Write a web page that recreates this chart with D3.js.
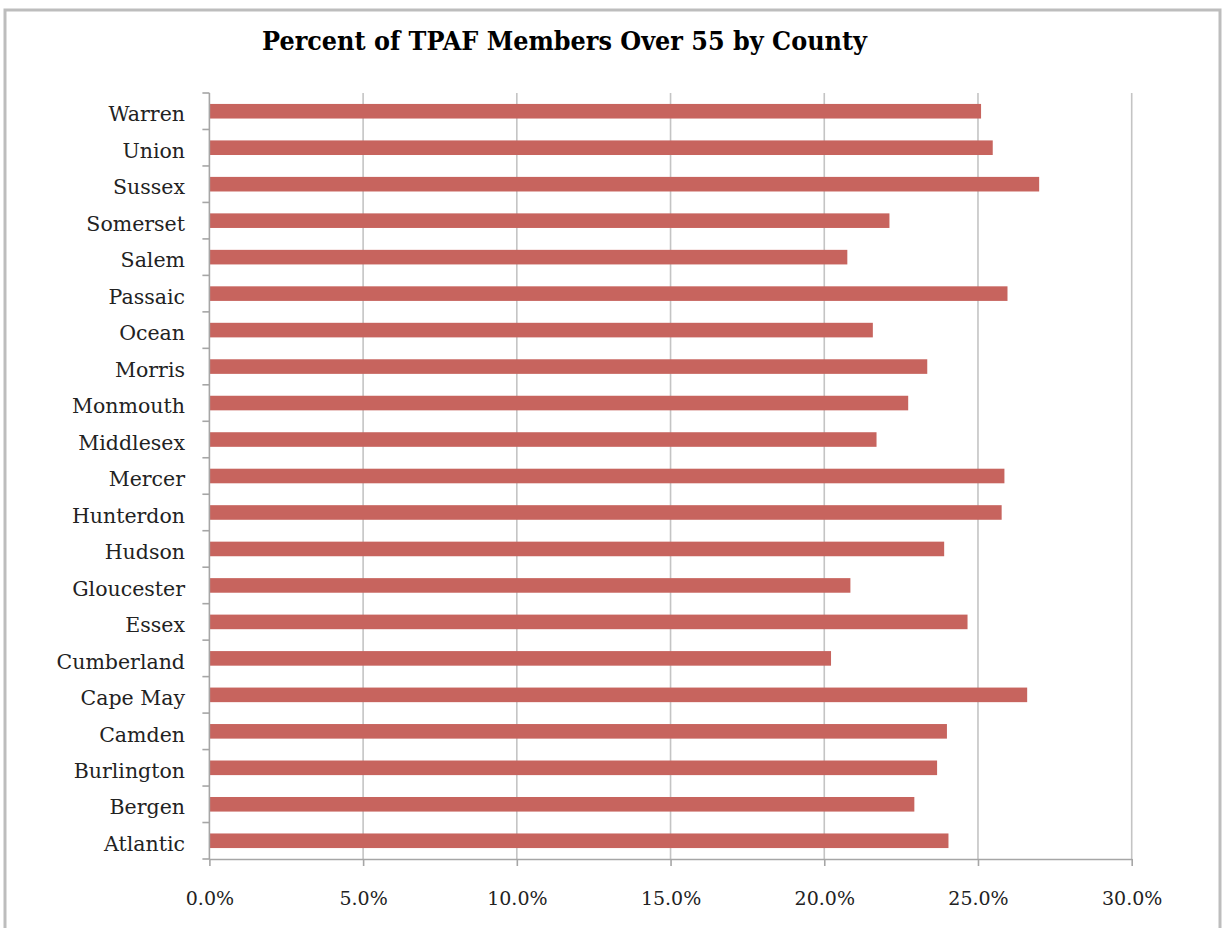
<!DOCTYPE html>
<html>
<head>
<meta charset="utf-8">
<script src="https://cdn.jsdelivr.net/npm/d3@7"></script>
<style>
  body { margin: 0; background: #fff; }
  text { font-family: "DejaVu Serif", serif; fill: #222; }
</style>
</head>
<body>
<div id="chart"></div>
<script>
// county names, top to bottom as drawn
const counties = ["Warren", "Union", "Sussex", "Somerset", "Salem", "Passaic", "Ocean",
  "Morris", "Monmouth", "Middlesex", "Mercer", "Hunterdon", "Hudson", "Gloucester",
  "Essex", "Cumberland", "Cape May", "Camden", "Burlington", "Bergen", "Atlantic"];

// share of TPAF members over 55
const shares = [0.2510, 0.2548, 0.2699, 0.2212, 0.2075, 0.2596, 0.2158,
  0.2335, 0.2273, 0.2170, 0.2586, 0.2577, 0.2390, 0.2085,
  0.2466, 0.2022, 0.2660, 0.2399, 0.2367, 0.2293, 0.2404];

const xTicks = [0, 0.05, 0.10, 0.15, 0.20, 0.25, 0.30];

((() => {
  let width = 1227;
  let height = 928;
  let left = 209.4, right = 1131.7, top = 93, bottom = 859;

  let svg = d3.select("#chart").append("svg")
    .attr("width", width)
    .attr("height", height);

  // outer chart frame
  svg.append("rect")
    .attr("x", 5).attr("y", 10)
    .attr("width", 1215).attr("height", 940)
    .attr("fill", "none")
    .attr("stroke", "#bdbdbd")
    .attr("stroke-width", 3);

  svg.append("text")
    .attr("x", 564.5).attr("y", 50)
    .attr("text-anchor", "middle")
    .attr("textLength", 605)
    .attr("lengthAdjust", "spacingAndGlyphs")
    .style("font-size", "26px")
    .style("font-weight", "bold")
    .style("fill", "#000")
    .text("Percent of TPAF Members Over 55 by County");

  let x = d3.scaleLinear().domain([0, 0.30]).range([left, right]);
  let y = d3.scaleBand().domain(counties).range([top, bottom])
    .paddingInner(0.6).paddingOuter(0.3);

  // vertical gridlines
  svg.append("g")
    .selectAll("line")
    .data(xTicks.filter(d => d > 0))
    .enter().append("line")
    .attr("x1", d => x(d)).attr("x2", d => x(d))
    .attr("y1", top).attr("y2", bottom)
    .attr("stroke", "#c4c4c4")
    .attr("stroke-width", 1.6);

  // bars
  svg.append("g")
    .selectAll("rect")
    .data(counties)
    .enter().append("rect")
    .attr("x", x(0))
    .attr("y", d => y(d))
    .attr("width", (d, i) => x(shares[i]) - x(0))
    .attr("height", y.bandwidth())
    .attr("fill", "#c7645e");

  // x axis
  let xAxis = svg.append("g")
    .attr("transform", `translate(0,${bottom})`)
    .call(d3.axisBottom(x).tickValues(xTicks).tickFormat(d3.format(".1%"))
      .tickSizeInner(7).tickSizeOuter(0).tickPadding(26));
  xAxis.select(".domain").attr("stroke", "#a6a6a6").attr("stroke-width", 1.6);
  xAxis.selectAll(".tick line").attr("stroke", "#a6a6a6").attr("stroke-width", 1.6);
  xAxis.selectAll("text").style("font-size", "19px").style("fill", "#222")
    .attr("font-family", null);

  // y axis: line, ticks between categories, labels
  let step = y.step();
  let boundaries = d3.range(counties.length + 1).map(i => top + i * step);
  let yAxis = svg.append("g");
  yAxis.append("line")
    .attr("x1", left).attr("x2", left)
    .attr("y1", top).attr("y2", bottom)
    .attr("stroke", "#a6a6a6").attr("stroke-width", 1.6);
  yAxis.selectAll("line.tick")
    .data(boundaries)
    .enter().append("line")
    .attr("class", "tick")
    .attr("x1", left - 7).attr("x2", left)
    .attr("y1", d => d).attr("y2", d => d)
    .attr("stroke", "#a6a6a6").attr("stroke-width", 1.6);
  yAxis.selectAll("text")
    .data(counties)
    .enter().append("text")
    .attr("x", 185)
    .attr("y", d => y(d) + y.bandwidth() / 2 + 3)
    .attr("dy", "0.35em")
    .attr("text-anchor", "end")
    .style("font-size", "20.5px")
    .text(d => d);
})());
</script>
</body>
</html>
